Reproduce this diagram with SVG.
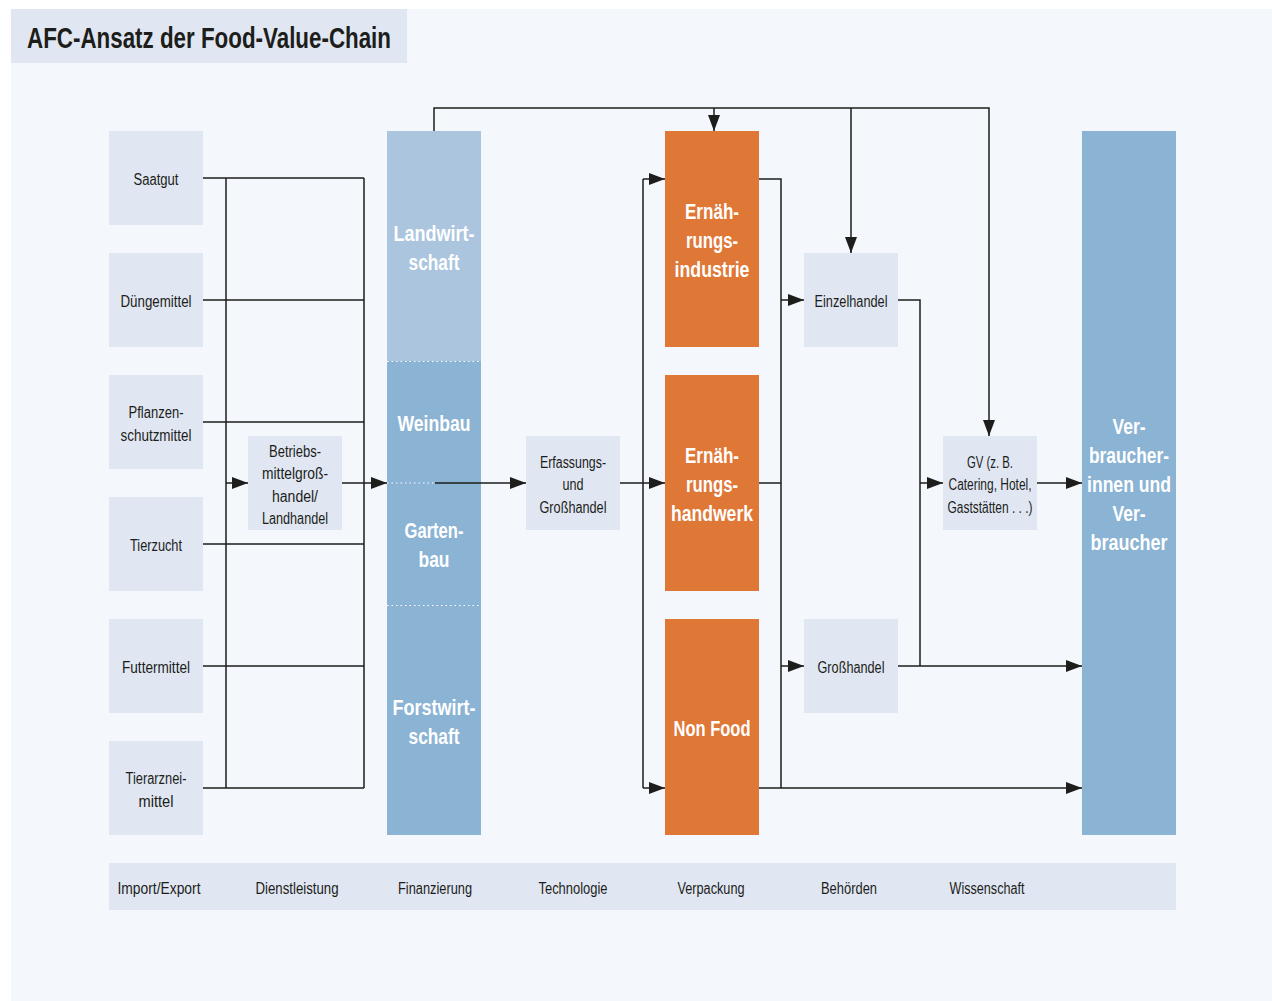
<svg xmlns="http://www.w3.org/2000/svg" width="1272" height="1001" viewBox="0 0 1272 1001">
<defs>
<marker id="ah" markerUnits="userSpaceOnUse" markerWidth="16" markerHeight="12" refX="16" refY="6" orient="auto">
<path d="M0,0 L16,6 L0,12 z" fill="#1d1d1b"/>
</marker>
<style>
.bx{fill:#e0e7f2}
.or{fill:#df7737}
.bl{fill:#8bb3d4}
.t{font-family:"Liberation Sans",Arial,sans-serif;font-size:16px;fill:#1d1d1b;text-anchor:middle}
.b{font-family:"Liberation Sans",Arial,sans-serif;font-size:21.5px;font-weight:bold;fill:#ffffff;text-anchor:middle}
.ln{fill:none;stroke:#1d1d1b;stroke-width:1.5}
.ar{fill:none;stroke:#1d1d1b;stroke-width:1.5;marker-end:url(#ah)}
.dt{stroke:#ffffff;stroke-width:1.2;stroke-dasharray:1.5 3}
</style>
</defs>
<rect x="11" y="9" width="1261" height="992" fill="#f4f8fc"/>
<g id="title">
<rect x="11" y="9" width="396" height="54" class="bx"/>
<text x="27" y="48" font-family="Liberation Sans, Arial, sans-serif" font-size="29" font-weight="bold" fill="#1d1d1b" textLength="364" lengthAdjust="spacingAndGlyphs">AFC-Ansatz der Food-Value-Chain</text>
</g>
<g id="saatgut"><rect x="109" y="131" width="94" height="94" class="bx"/><text x="156" y="185" class="t" textLength="45" lengthAdjust="spacingAndGlyphs">Saatgut</text></g>
<g id="duengemittel"><rect x="109" y="253" width="94" height="94" class="bx"/><text x="156" y="307" class="t" textLength="71" lengthAdjust="spacingAndGlyphs">Düngemittel</text></g>
<g id="pflanzenschutzmittel"><rect x="109" y="375" width="94" height="94" class="bx"/><text x="156" y="418" class="t" textLength="55" lengthAdjust="spacingAndGlyphs">Pflanzen-</text><text x="156" y="441" class="t" textLength="71" lengthAdjust="spacingAndGlyphs">schutzmittel</text></g>
<g id="tierzucht"><rect x="109" y="497" width="94" height="94" class="bx"/><text x="156" y="551" class="t" textLength="52" lengthAdjust="spacingAndGlyphs">Tierzucht</text></g>
<g id="futtermittel"><rect x="109" y="619" width="94" height="94" class="bx"/><text x="156" y="673" class="t" textLength="68" lengthAdjust="spacingAndGlyphs">Futtermittel</text></g>
<g id="tierarzneimittel"><rect x="109" y="741" width="94" height="94" class="bx"/><text x="156" y="784" class="t" textLength="61" lengthAdjust="spacingAndGlyphs">Tierarznei-</text><text x="156" y="807" class="t" textLength="35" lengthAdjust="spacingAndGlyphs">mittel</text></g>
<g id="betriebsmittel"><rect x="248" y="436" width="94" height="94" class="bx"/>
<text x="295" y="457" class="t" textLength="52" lengthAdjust="spacingAndGlyphs">Betriebs-</text>
<text x="295" y="479" class="t" textLength="66" lengthAdjust="spacingAndGlyphs">mittelgroß-</text>
<text x="295" y="502" class="t" textLength="46" lengthAdjust="spacingAndGlyphs">handel/</text>
<text x="295" y="524" class="t" textLength="66" lengthAdjust="spacingAndGlyphs">Landhandel</text></g>
<g id="urproduktion">
<rect x="387" y="131" width="94" height="231" fill="#aac5dd"/>
<rect x="387" y="361" width="94" height="474" class="bl"/>
<line x1="387" y1="361.5" x2="481" y2="361.5" class="dt"/>
<line x1="387" y1="483" x2="435" y2="483" class="dt"/>
<line x1="387" y1="605.5" x2="481" y2="605.5" class="dt"/>
<text x="434" y="241" class="b" textLength="81" lengthAdjust="spacingAndGlyphs">Landwirt-</text>
<text x="434" y="270" class="b" textLength="51" lengthAdjust="spacingAndGlyphs">schaft</text>
<text x="434" y="431" class="b" textLength="73" lengthAdjust="spacingAndGlyphs">Weinbau</text>
<text x="434" y="538" class="b" textLength="59" lengthAdjust="spacingAndGlyphs">Garten-</text>
<text x="434" y="567" class="b" textLength="31" lengthAdjust="spacingAndGlyphs">bau</text>
<text x="434" y="715" class="b" textLength="83" lengthAdjust="spacingAndGlyphs">Forstwirt-</text>
<text x="434" y="744" class="b" textLength="51" lengthAdjust="spacingAndGlyphs">schaft</text>
</g>
<g id="erfassung"><rect x="526" y="436" width="94" height="94" class="bx"/>
<text x="573" y="468" class="t" textLength="66" lengthAdjust="spacingAndGlyphs">Erfassungs-</text>
<text x="573" y="490" class="t" textLength="21" lengthAdjust="spacingAndGlyphs">und</text>
<text x="573" y="513" class="t" textLength="67" lengthAdjust="spacingAndGlyphs">Großhandel</text></g>
<g id="ernaehrungsindustrie"><rect x="665" y="131" width="94" height="216" class="or"/>
<text x="712" y="219" class="b" textLength="54" lengthAdjust="spacingAndGlyphs">Ernäh-</text>
<text x="712" y="248" class="b" textLength="52" lengthAdjust="spacingAndGlyphs">rungs-</text>
<text x="712" y="277" class="b" textLength="75" lengthAdjust="spacingAndGlyphs">industrie</text></g>
<g id="ernaehrungshandwerk"><rect x="665" y="375" width="94" height="216" class="or"/>
<text x="712" y="463" class="b" textLength="54" lengthAdjust="spacingAndGlyphs">Ernäh-</text>
<text x="712" y="492" class="b" textLength="52" lengthAdjust="spacingAndGlyphs">rungs-</text>
<text x="712" y="521" class="b" textLength="82" lengthAdjust="spacingAndGlyphs">handwerk</text></g>
<g id="nonfood"><rect x="665" y="619" width="94" height="216" class="or"/>
<text x="712" y="736" class="b" textLength="77" lengthAdjust="spacingAndGlyphs">Non Food</text></g>
<g id="einzelhandel"><rect x="804" y="253" width="94" height="94" class="bx"/><text x="851" y="307" class="t" textLength="73" lengthAdjust="spacingAndGlyphs">Einzelhandel</text></g>
<g id="grosshandel"><rect x="804" y="619" width="94" height="94" class="bx"/><text x="851" y="673" class="t" textLength="67" lengthAdjust="spacingAndGlyphs">Großhandel</text></g>
<g id="gv"><rect x="943" y="436" width="94" height="94" class="bx"/>
<text x="990" y="468" class="t" textLength="46" lengthAdjust="spacingAndGlyphs">GV (z. B.</text>
<text x="990" y="490" class="t" textLength="83" lengthAdjust="spacingAndGlyphs">Catering, Hotel,</text>
<text x="990" y="513" class="t" textLength="85" lengthAdjust="spacingAndGlyphs">Gaststätten . . .)</text></g>
<g id="verbraucher"><rect x="1082" y="131" width="94" height="704" class="bl"/>
<text x="1129" y="434" class="b" textLength="33" lengthAdjust="spacingAndGlyphs">Ver-</text>
<text x="1129" y="463" class="b" textLength="80" lengthAdjust="spacingAndGlyphs">braucher-</text>
<text x="1129" y="492" class="b" textLength="84" lengthAdjust="spacingAndGlyphs">innen und</text>
<text x="1129" y="521" class="b" textLength="33" lengthAdjust="spacingAndGlyphs">Ver-</text>
<text x="1129" y="550" class="b" textLength="77" lengthAdjust="spacingAndGlyphs">braucher</text></g>
<g id="querschnitt"><rect x="109" y="863" width="1067" height="47" class="bx"/>
<text x="159" y="894" class="t" textLength="83" lengthAdjust="spacingAndGlyphs">Import/Export</text>
<text x="297" y="894" class="t" textLength="83" lengthAdjust="spacingAndGlyphs">Dienstleistung</text>
<text x="435" y="894" class="t" textLength="74" lengthAdjust="spacingAndGlyphs">Finanzierung</text>
<text x="573" y="894" class="t" textLength="69" lengthAdjust="spacingAndGlyphs">Technologie</text>
<text x="711" y="894" class="t" textLength="67" lengthAdjust="spacingAndGlyphs">Verpackung</text>
<text x="849" y="894" class="t" textLength="56" lengthAdjust="spacingAndGlyphs">Behörden</text>
<text x="987" y="894" class="t" textLength="75" lengthAdjust="spacingAndGlyphs">Wissenschaft</text></g>
<g id="connectors">
<path class="ln" d="M203,178 H364 M203,300 H364 M203,422 H364 M203,544 H364 M203,666 H364 M203,788 H364 M226,178 V788 M364,178 V788"/>
<path class="ar" d="M226,483 H248"/>
<path class="ar" d="M342,483 H387"/>
<path class="ar" d="M435,483 H526"/>
<path class="ar" d="M434,131 V108 H989 V436"/>
<path class="ar" d="M714,108 V131"/>
<path class="ar" d="M851,108 V253"/>
<path class="ar" d="M620,483 H665"/>
<path class="ln" d="M643,179 V788"/>
<path class="ar" d="M643,179 H665"/>
<path class="ar" d="M643,788 H665"/>
<path class="ln" d="M759,179 H781 V788 M759,483 H781"/>
<path class="ar" d="M759,788 H1082"/>
<path class="ar" d="M781,300 H804"/>
<path class="ar" d="M781,666 H804"/>
<path class="ln" d="M898,300 H920 V666"/>
<path class="ar" d="M920,483 H943"/>
<path class="ar" d="M898,666 H1082"/>
<path class="ar" d="M1037,483 H1082"/>
</g>
</svg>
